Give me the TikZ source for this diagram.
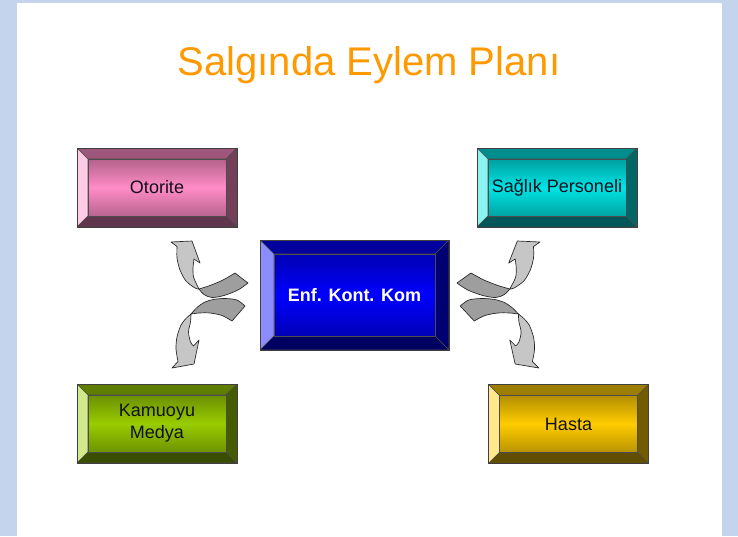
\documentclass[tikz,border=0pt]{standalone}
\usepackage{fontspec}
\setmainfont{Liberation Sans}
\usepackage{tikz}
\usetikzlibrary{calc}
\definecolor{SlideBlue}{RGB}{197,212,237}
\definecolor{TitleOrange}{HTML}{FF9900}
\definecolor{OtoritePink}{HTML}{FF8CC6}
\definecolor{SaglikCyan}{HTML}{00E4E4}
\definecolor{KomBlue}{HTML}{0000FF}
\definecolor{MedyaGreen}{HTML}{99CC00}
\definecolor{HastaGold}{HTML}{FFCC00}
\definecolor{ArrowLight}{HTML}{C6C6C6}
\definecolor{ArrowDark}{HTML}{9E9E9E}
\definecolor{TextDark}{HTML}{10101E}

\begin{document}
\begin{tikzpicture}[x=0.75pt, y=-0.75pt,
    every node/.style={font=\fontsize{13.5}{16.5}\selectfont, text=TextDark},
    bevelbox/.style 2 args={draw=black!75, line width=0.4pt, inner sep=0pt,
      align=center,
      path picture={
        \coordinate (pnw) at (path picture bounding box.north west);
        \coordinate (pne) at (path picture bounding box.north east);
        \coordinate (psw) at (path picture bounding box.south west);
        \coordinate (pse) at (path picture bounding box.south east);
        \coordinate (inw) at ([shift={(#2,-#2)}]pnw);
        \coordinate (ine) at ([shift={(-#2,-#2)}]pne);
        \coordinate (isw) at ([shift={(#2,#2)}]psw);
        \coordinate (ise) at ([shift={(-#2,#2)}]pse);
        \begin{scope}[draw=black!70, line width=0.4pt]
          \filldraw[fill=#1!62!black] (pnw) -- (pne) -- (ine) -- (inw) -- cycle;
          \filldraw[fill=#1!45!white] (pnw) -- (inw) -- (isw) -- (psw) -- cycle;
          \filldraw[fill=#1!45!black] (pne) -- (pse) -- (ise) -- (ine) -- cycle;
          \filldraw[fill=#1!38!black] (psw) -- (isw) -- (ise) -- (pse) -- cycle;
          \shade[top color=#1!70!black, bottom color=#1!72!black, middle color=#1]
            (inw) rectangle (ise);
          \draw (inw) rectangle (ise);
        \end{scope}
      }},
    smallbox/.style={minimum width=120pt, minimum height=59.25pt},
    bigbox/.style={minimum width=141.75pt, minimum height=82.5pt},
    curllight/.style={fill=ArrowLight, draw=black!85, line width=0.5pt, line join=round},
    curldark/.style={fill=ArrowDark, draw=black!85, line width=0.5pt, line join=round},
    curlpair/.pic={
      % upper curl: dark back side, then light front with head
      \filldraw[curldark] plot[smooth] coordinates {(199,289) (210,285.5) (223,280) (235,273)}
        -- (248,283)
        -- plot[smooth] coordinates {(248,283) (238,290) (224,295.5) (212,297.5) (204,294.5) (199,289)}
        -- cycle;
      \filldraw[curllight] (171,242) -- (192,241) -- (200,263) -- (194,259)
        -- plot[smooth] coordinates {(194,259) (193,268) (193.5,277) (196.5,284) (199,289)}
        -- plot[smooth] coordinates {(199,289) (195,288) (186,281) (180,270) (177,258) (177,246.5)}
        -- cycle;
      % lower curl
      \filldraw[curldark] plot[smooth] coordinates {(191,314) (197,307.5) (204,302.5) (213,299.5) (225,298.5) (237,300) (245,306)}
        -- (232,321)
        -- plot[smooth] coordinates {(232,321) (222,315.5) (210,313) (199,313) (191,314)}
        -- cycle;
      \filldraw[curllight] (172,368) -- (178,361.5)
        -- plot[smooth] coordinates {(178,361.5) (176,349) (177,337) (181,325) (186,318.5) (191,314)}
        -- plot[smooth] coordinates {(191,314) (190.5,322) (188.5,332) (190.5,342) (193.5,346)}
        -- (199,340) -- (194,364) -- cycle;
    }]
  % slide
  \fill[SlideBlue] (0,0) rectangle (738,536);
  \fill[white] (17,3) rectangle (722,536);
  \useasboundingbox (0,0) rectangle (738,536);

  \node[font=\fontsize{30}{36}\selectfont, text=TitleOrange, anchor=base]
    (title) at (369,75) {Salgında Eylem Planı};

  \node[bevelbox={OtoritePink}{8.25pt}, smallbox] (otorite) at (157,187.5) {Otorite};
  \node[bevelbox={SaglikCyan}{8.25pt}, smallbox] (saglik) at (557,187.5) {Sağlık Personeli};
  \node[bevelbox={KomBlue}{10.5pt}, bigbox, text=white,
        font={\fontsize{13.5}{16.5}\selectfont\bfseries}] (kom) at (354.5,295) {Enf. Kont. Kom};
  \node[bevelbox={MedyaGreen}{8.25pt}, smallbox] (medya) at (157,423.5) {Kamuoyu\\Medya};
  \node[bevelbox={HastaGold}{8.25pt}, smallbox] (hasta) at (568.5,424) {Hasta};

  % curled arrows either side of the committee
  \pic at (0,0) {curlpair};
  \pic[xscale=-1.078] at (724.3,0) {curlpair};
\end{tikzpicture}
\end{document}
